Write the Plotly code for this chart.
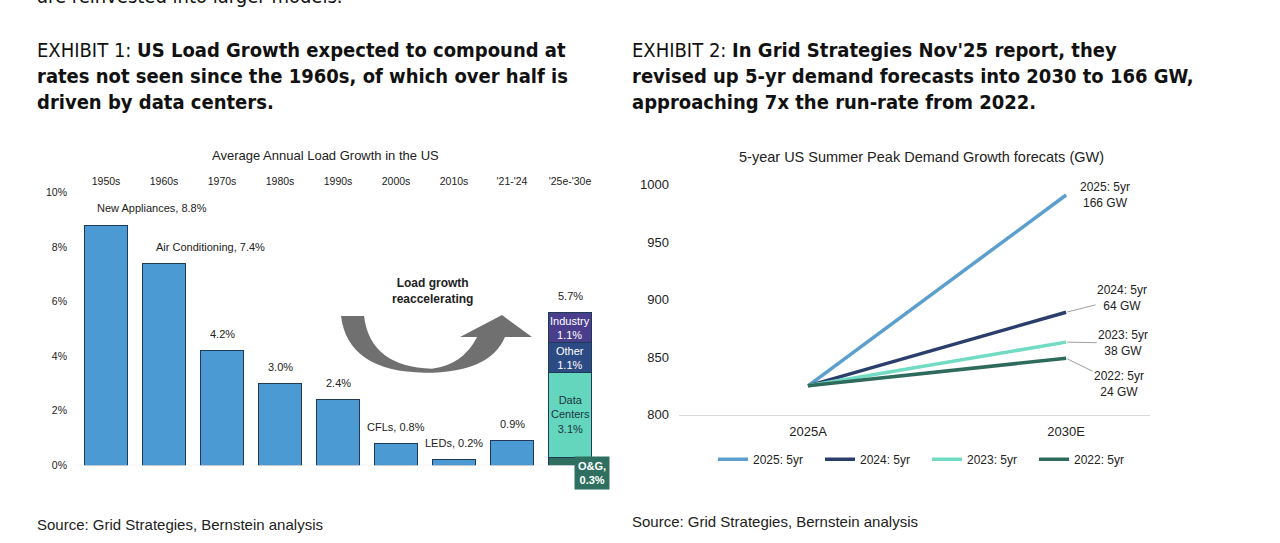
import plotly.graph_objects as go

W, H = 1280, 543

# Exhibit 1 data
decades = ["1950s", "1960s", "1970s", "1980s", "1990s", "2000s", "2010s", "'21-'24", "'25e-'30e"]
hist_growth = [8.8, 7.4, 4.2, 3.0, 2.4, 0.8, 0.2, 0.9]
hist_drivers = ["New Appliances", "Air Conditioning", "", "", "", "CFLs", "LEDs", ""]
segments = ["O&G", "Data Centers", "Other", "Industry"]
segment_values = [0.3, 3.1, 1.1, 1.1]
segment_colors = ["#2f6f60", "#63d6bd", "#2c4a84", "#4a3d8c"]
forecast_total = 5.7

# Exhibit 2 data
years = ["2025A", "2030E"]
forecasts = ["2025: 5yr", "2024: 5yr", "2023: 5yr", "2022: 5yr"]
peak_2025a = [825, 825, 825, 825]
peak_2030e = [991, 889, 863, 849]
added_gw = [166, 64, 38, 24]
line_colors = ["#5b9fce", "#2b3e6b", "#72dbc3", "#2f6b5d"]

FONT = "Arial, Liberation Sans, sans-serif"
TITLE_FONT = "DejaVu Sans Condensed, Liberation Sans Narrow, sans-serif"

# the page gets photographed slightly squashed vertically; layout positions
# below are given in screenshot pixels and mapped back through this
Y_SCALE, Y_OFF = 0.977, 4.5


def py(y):
    # screenshot pixel row -> paper y
    return 1 - ((y - Y_OFF) / Y_SCALE) / H


def px(x):
    return x / W


def pp(x, y):
    return f"{px(x):.4f},{py(y):.4f}"


def paper_text(x, y, text, size, family=FONT, xanchor="center", align="center", color="#222"):
    return dict(x=px(x), y=py(y), xref="paper", yref="paper",
                xanchor=xanchor, yanchor="middle", align=align,
                text=text, showarrow=False,
                font=dict(family=family, size=size, color=color))


fig = go.Figure()

# historical bars
fig.add_trace(go.Bar(
    x=decades[:len(hist_growth)], y=hist_growth,
    marker=dict(color="#4b9ad4", line=dict(color="#1f3a56", width=1)),
    showlegend=False, xaxis="x", yaxis="y", hoverinfo="x+y"
))

# stacked forecast bar
for name, val, col in zip(segments, segment_values, segment_colors):
    fig.add_trace(go.Bar(
        x=[decades[-1]], y=[val], name=name,
        marker=dict(color=col, line=dict(color="#1f3a56", width=1)),
        showlegend=False, xaxis="x", yaxis="y"
    ))

# forecast lines
for name, a, b, col in zip(forecasts, peak_2025a, peak_2030e, line_colors):
    fig.add_trace(go.Scatter(
        x=years, y=[a, b], mode="lines", name=name,
        line=dict(color=col, width=3.5),
        xaxis="x2", yaxis="y2"
    ))

ann = []

# bar value labels
for cat, v, drv in zip(decades, hist_growth, hist_drivers):
    txt = f"{drv}, {v:.1f}%" if drv else f"{v:.1f}%"
    ann.append(dict(
        x=cat, y=v, xref="x", yref="y", text=txt, showarrow=False,
        yanchor="bottom", yshift=9, xshift=46 if len(drv) > 10 else 0,
        font=dict(family=FONT, size=11, color="#222")
    ))

ann.append(dict(
    x=decades[-1], y=sum(segment_values), xref="x", yref="y",
    text=f"{forecast_total:.1f}%", showarrow=False, yanchor="bottom", yshift=9,
    font=dict(family=FONT, size=11, color="#222")
))

# labels inside the stacked bar
base = 0
for name, val in zip(segments, segment_values):
    mid = base + val / 2
    base += val
    if name == "O&G":
        ann.append(dict(
            x=decades[-1], y=mid, xref="x", yref="y",
            text=f"<b>{name},<br>{val:.1f}%</b>", showarrow=False,
            xshift=22, yshift=-12, bgcolor=segment_colors[0],
            borderpad=3, font=dict(family=FONT, size=11, color="white")
        ))
        continue
    label = name.replace(" ", "<br>")
    ann.append(dict(
        x=decades[-1], y=mid, xref="x", yref="y",
        text=f"{label}<br>{val:.1f}%", showarrow=False,
        font=dict(family=FONT, size=11,
                  color="#1d3442" if name == "Data Centers" else "white")
    ))

ann.append(paper_text(432, 290, "<b>Load growth<br>reaccelerating</b>", 12))

# forecast end labels
label_offsets = [(39, 0), (56, -14), (57, 1), (53, 26)]
for name, end, add, (dx, dy) in zip(forecasts, peak_2030e, added_gw, label_offsets):
    a = dict(
        x=years[-1], y=end, xref="x2", yref="y2",
        text=f"{name}<br>{add} GW",
        font=dict(family=FONT, size=12, color="#222")
    )
    if dy == 0:
        a.update(showarrow=False, xshift=dx, xanchor="center", yanchor="middle")
    else:
        a.update(showarrow=True, ax=dx, ay=dy, arrowhead=0, arrowwidth=1,
                 arrowcolor="#a0a0a0", standoff=1)
    ann.append(a)

# chart titles
ann.append(paper_text(325, 154, "Average Annual Load Growth in the US", 13))
ann.append(paper_text(921, 155, "5-year US Summer Peak Demand Growth forecats (GW)", 14.5))

# exhibit headings
ann.append(paper_text(35, -7, "are reinvested into larger models.", 20,
                      family=TITLE_FONT, xanchor="left", align="left", color="#111"))
ann.append(paper_text(35, 74,
                      "EXHIBIT 1: <b>US Load Growth expected to compound at<br>"
                      "rates not seen since the 1960s, of which over half is<br>"
                      "driven by data centers.</b>", 20,
                      family=TITLE_FONT, xanchor="left", align="left", color="#111"))
ann.append(paper_text(630, 74,
                      "EXHIBIT 2: <b>In Grid Strategies Nov'25 report, they<br>"
                      "revised up 5-yr demand forecasts into 2030 to 166 GW,<br>"
                      "approaching 7x the run-rate from 2022.</b>", 20,
                      family=TITLE_FONT, xanchor="left", align="left", color="#111"))

# sources
for sx, sy in [(35, 524), (630, 521)]:
    ann.append(paper_text(sx, sy, "Source: Grid Strategies, Bernstein analysis", 15,
                          xanchor="left", align="left"))

# curved arrow
arrow_path = (
    f"M {pp(341, 315)} L {pp(364, 315)} "
    f"Q {pp(370, 366)} {pp(432, 368)} "
    f"Q {pp(463, 364)} {pp(477, 336)} "
    f"L {pp(460, 336)} L {pp(502, 314)} L {pp(532, 336)} L {pp(505, 336)} "
    f"Q {pp(490, 372)} {pp(425, 372)} "
    f"Q {pp(348, 371)} {pp(341, 315)} Z"
)
shapes = [
    dict(type="path", path=arrow_path, xref="paper", yref="paper",
         fillcolor="#707070", line=dict(width=0), layer="below"),
    dict(type="line", xref="x domain", yref="y", x0=0, x1=1, y0=0, y1=0,
         line=dict(color="#e3e3e3", width=1), layer="below"),
]

fig.update_layout(
    width=W, height=H,
    margin=dict(l=0, r=0, t=0, b=0),
    paper_bgcolor="white", plot_bgcolor="white",
    barmode="stack", bargap=0.26,
    font=dict(family=FONT, color="#222"),
    annotations=ann, shapes=shapes,
    xaxis=dict(domain=[px(77), px(599)], side="top", type="category",
               range=[-0.5, 8.5], showgrid=False, showline=False, ticks="",
               ticklabelstandoff=5,
               tickfont=dict(size=10.5, color="#222"), fixedrange=True),
    yaxis=dict(domain=[py(465), py(191)], range=[0, 10], dtick=2,
               ticksuffix="%", showgrid=False, zeroline=False, ticks="",
               ticklabelstandoff=9,
               tickfont=dict(size=10.5, color="#222"), fixedrange=True),
    xaxis2=dict(domain=[px(679), px(1150)], anchor="y2", type="category",
                range=[-0.5, 1.325], showgrid=False, showline=True,
                linecolor="#d9d9d9", ticks="", ticklabelstandoff=5,
                tickfont=dict(size=13, color="#222"), fixedrange=True),
    yaxis2=dict(domain=[py(414), py(183)], anchor="x2", range=[800, 1000],
                dtick=50, showgrid=False, zeroline=False, ticks="",
                ticklabelstandoff=9,
                tickfont=dict(size=13, color="#222"), fixedrange=True),
    legend=dict(orientation="h", x=px(927), xanchor="center", y=py(459),
                yanchor="middle", font=dict(size=12, color="#222"),
                itemwidth=30, traceorder="normal",
                entrywidth=62, entrywidthmode="pixels"),
)

# drop the default page margin so the figure sits at the window origin
fig.write_html("out.html", config={"displayModeBar": False},
               post_script="document.body.style.margin='0';")
